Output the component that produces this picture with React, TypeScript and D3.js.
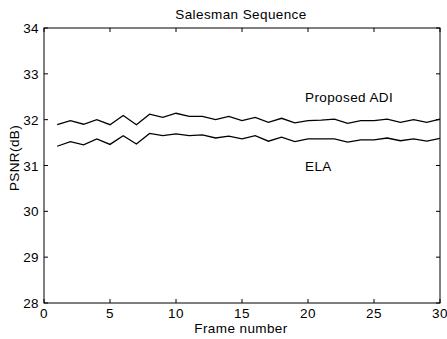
import React from "react";
import * as d3 from "d3";

const frames = d3.range(1, 31);
const proposedADI = [31.89, 31.98, 31.9, 32.0, 31.89, 32.09, 31.89, 32.12, 32.05, 32.14, 32.07, 32.07, 32.0, 32.07, 31.98, 32.05, 31.94, 32.03, 31.93, 31.98, 31.99, 32.01, 31.92, 31.98, 31.98, 32.01, 31.94, 32.0, 31.94, 32.01];
const ela = [31.42, 31.52, 31.45, 31.58, 31.46, 31.65, 31.47, 31.7, 31.65, 31.69, 31.65, 31.67, 31.6, 31.64, 31.58, 31.65, 31.53, 31.62, 31.52, 31.58, 31.58, 31.58, 31.51, 31.56, 31.56, 31.6, 31.54, 31.58, 31.53, 31.59];
const xTicks = [0, 5, 10, 15, 20, 25, 30];
const yTicks = [28, 29, 30, 31, 32, 33, 34];

export default function App() {
  const W = 447, H = 339;
  const L = 44, R = 440, T = 28, B = 303;
  const x = d3.scaleLinear().domain([0, 30]).range([L, R]);
  const y = d3.scaleLinear().domain([28, 34]).range([B, T]);
  const line = d3.line<number>().x((_, i) => x(frames[i])).y(d => y(d));
  const font = "Liberation Sans, Arial, sans-serif";
  const fs = 13.5;
  const ls = 0.4;
  const tl = 4;
  return (
    <svg width={W} height={H} style={{ position: "absolute", left: 0, top: 0, background: "#fff" }} fontFamily={font} letterSpacing={ls}>
      <rect x={0} y={0} width={W} height={H} fill="#fff" />
      <rect x={L} y={T} width={R - L} height={B - T} fill="none" stroke="#000" strokeWidth={1} />
      {xTicks.map(t => (
        <g key={"x" + t}>
          <line x1={x(t)} x2={x(t)} y1={B} y2={B - tl} stroke="#000" />
          <line x1={x(t)} x2={x(t)} y1={T} y2={T + tl} stroke="#000" />
          <text x={x(t)} y={B + 15} fontSize={fs} textAnchor="middle">{t}</text>
        </g>
      ))}
      {yTicks.map(t => (
        <g key={"y" + t}>
          <line x1={L} x2={L + tl} y1={y(t)} y2={y(t)} stroke="#000" />
          <line x1={R} x2={R - tl} y1={y(t)} y2={y(t)} stroke="#000" />
          <text x={L - 5} y={y(t) + 5} fontSize={fs} textAnchor="end">{t}</text>
        </g>
      ))}
      <path d={line(proposedADI) || ""} fill="none" stroke="#000" strokeWidth={1.3} />
      <path d={line(ela) || ""} fill="none" stroke="#000" strokeWidth={1.3} />
      <text x={305} y={102} fontSize={fs}>Proposed ADI</text>
      <text x={305} y={171} fontSize={fs}>ELA</text>
      <text x={241} y={19} fontSize={fs} textAnchor="middle">Salesman Sequence</text>
      <text x={241} y={333} fontSize={fs} textAnchor="middle">Frame number</text>
      <text transform={`translate(19,158) rotate(-90)`} fontSize={fs} textAnchor="middle">PSNR(dB)</text>
    </svg>
  );
}
